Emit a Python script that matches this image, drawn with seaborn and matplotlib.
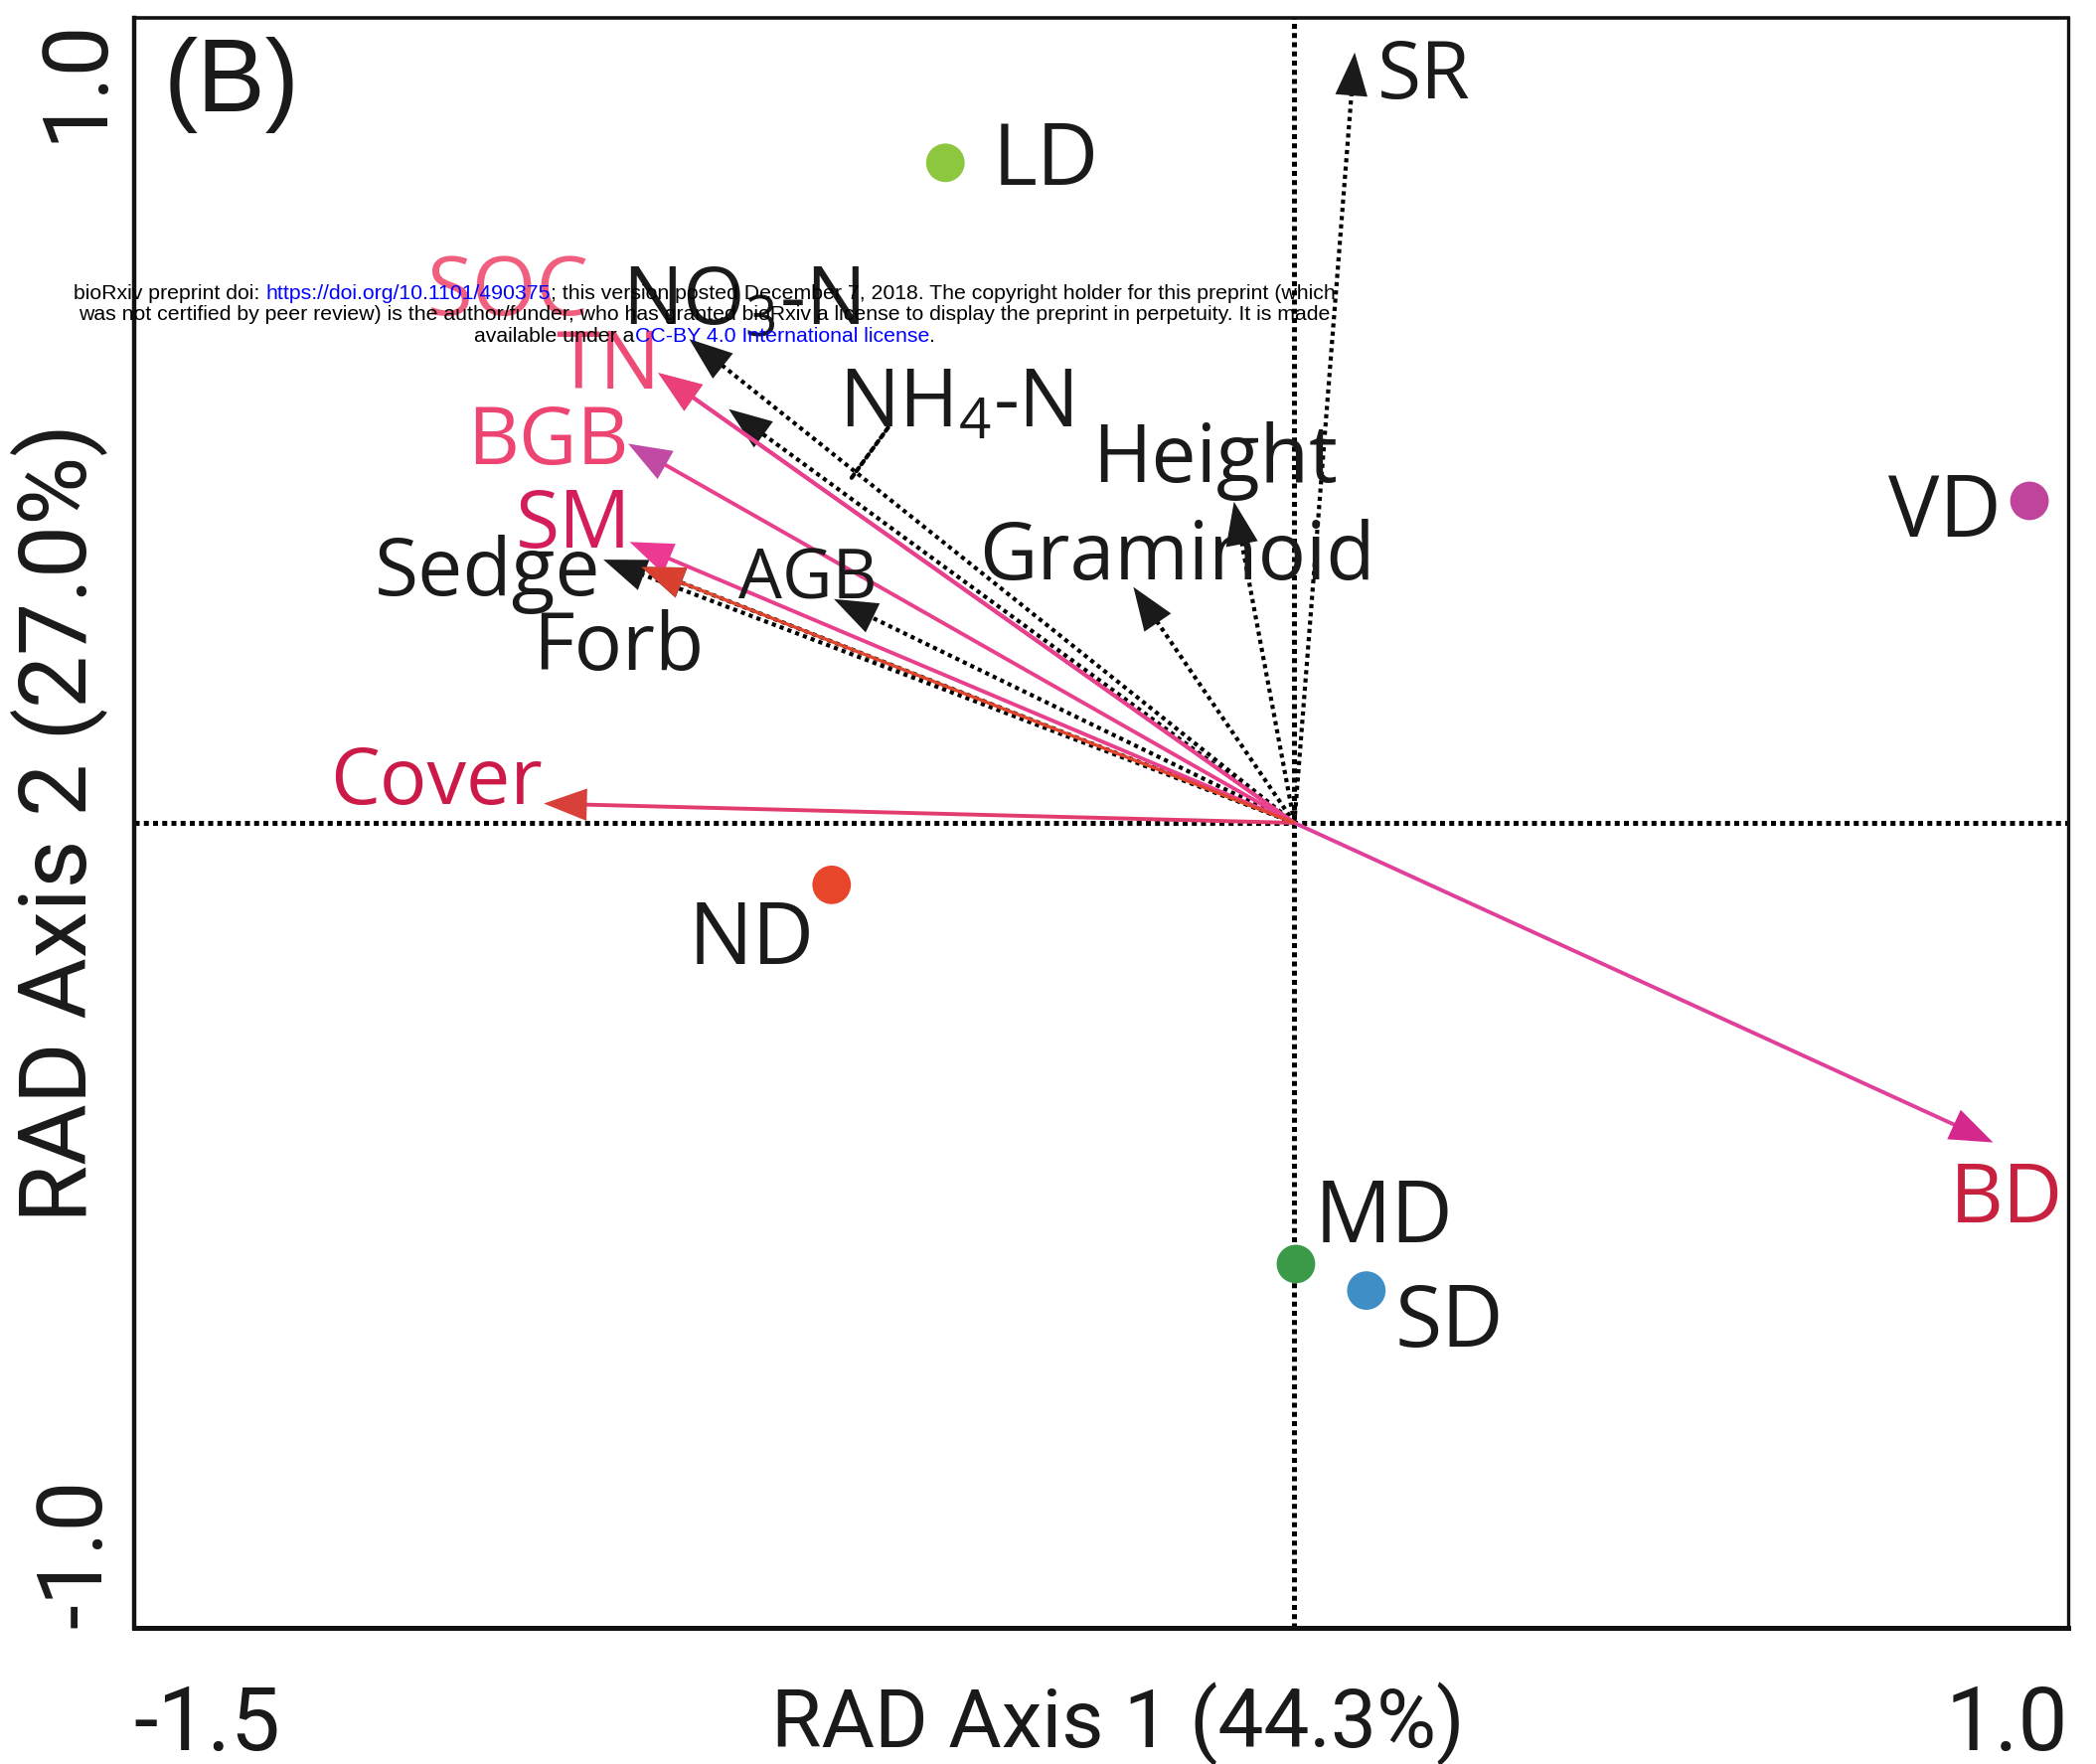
import matplotlib
matplotlib.use("Agg")
import matplotlib.pyplot as plt
from matplotlib import font_manager
import seaborn as sns
import numpy as np
import pandas as pd

# ---------------- data ----------------
site_names = ["LD", "VD", "ND", "MD", "SD"]
site_x = [-0.451, 0.950, -0.598, 0.002, 0.093]
site_y = [0.820, 0.400, -0.077, -0.548, -0.581]
site_colors = ["#8dc63f", "#c0449b", "#e8462b", "#3a9a47", "#3f8fc6"]

# soil / community vectors (solid, red)
soil_names = ["SOC", "TN", "BGB", "SM", "Cover", "BD"]
soil_x = [-0.822, -0.822, -0.861, -0.859, -0.970, 0.903]
soil_y = [0.559, 0.559, 0.471, 0.349, 0.024, -0.397]

# plant vectors (dotted, black)
plant_names = ["NO3-N", "NH4-N", "Height", "Graminoid", "SR", "AGB", "Sedge", "Forb"]
plant_x = [-0.782, -0.731, -0.078, -0.208, 0.078, -0.595, -0.893, -0.844]
plant_y = [0.601, 0.514, 0.399, 0.293, 0.957, 0.278, 0.327, 0.318]

x_ticks = [-1.5, -1.0, -0.5, 0.0, 0.5, 1.0]
x_ticklabels = ["-1.5", "", "", "", "", "1.0"]
y_ticks = [-1.0, -0.5, 0.0, 0.5, 1.0]
y_ticklabels = ["-1.0", "", "", "", "1.0"]

# ---------------- styles ----------------
soil_line_col = {"SOC": "#e8408c", "TN": "#e8408c", "BGB": "#e8408c", "SM": "#e8408c",
                 "Cover": "#e23c6e", "BD": "#e0409a"}
soil_head_col = {"SOC": "#ea3f78", "TN": "#ea3f78", "BGB": "#c04aa4", "SM": "#ec3a92",
                 "Cover": "#d8403a", "BD": "#d4288c"}
label_col = {"SOC": "#f0607e", "TN": "#ee4c76", "BGB": "#ee4472", "SM": "#d41e5c",
             "Cover": "#cc1a48", "BD": "#c8203f"}

# label placements (data coords, baseline)
var_label_pos = {
    "SOC": (-1.016, 0.631, "center"),
    "NO3-N": (-0.715, 0.619, "center"),
    "TN": (-0.887, 0.539, "center"),
    "NH4-N": (-0.437, 0.493, "center"),
    "BGB": (-0.964, 0.446, "center"),
    "Height": (-0.102, 0.423, "center"),
    "SM": (-0.931, 0.342, "center"),
    "Sedge": (-1.042, 0.283, "center"),
    "AGB": (-0.629, 0.279, "center"),
    "Graminoid": (-0.152, 0.302, "center"),
    "Forb": (-0.874, 0.190, "center"),
    "Cover": (-1.109, 0.024, "center"),
    "BD": (0.921, -0.496, "center"),
    "SR": (0.107, 0.900, "left"),
}
site_label_pos = {
    "LD": (-0.390, 0.792, "left"),
    "VD": (0.914, 0.355, "right"),
    "ND": (-0.701, -0.175, "center"),
    "MD": (0.026, -0.521, "left"),
    "SD": (0.130, -0.651, "left"),
}
var_display = {"NO3-N": r"NO$_3$-N", "NH4-N": r"NH$_4$-N"}

sns.set_theme(style="white")
plt.rcParams["font.family"] = ["Open Sans", "DejaVu Sans"]
plt.rcParams["mathtext.default"] = "regular"

installed = {f.name for f in font_manager.fontManager.ttflist}
wm_family = "Liberation Sans Narrow" if "Liberation Sans Narrow" in installed else "Liberation Sans"

W, H = 2109, 1775
fig = plt.figure(figsize=(W / 100, H / 100), dpi=100)
ax = fig.add_axes([134.5 / W, 1 - 1638 / H, (2081 - 134.5) / W, (1638 - 18) / H])
ax.set_xlim(-1.5, 1.0)
ax.set_ylim(-1.0, 1.0)

# origin dotted lines
ax.axhline(0, color="black", lw=3.6, ls=(0, (1, 0.85)), zorder=1)
ax.axvline(0, color="black", lw=3.6, ls=(0, (1, 0.85)), zorder=1)


def draw_vector(x, y, line_col, head_col, ls, lw, z, back_px=24):
    p0 = ax.transData.transform((0, 0))
    p1 = ax.transData.transform((x, y))
    d = p1 - p0
    L = np.hypot(*d)
    pe = p1 - d / L * back_px
    xe, ye = ax.transData.inverted().transform(pe)
    ax.plot([0, xe], [0, ye], color=line_col, lw=lw, ls=ls,
            solid_capstyle="butt", zorder=z)
    ax.annotate("", xy=(x, y), xytext=(x * 0.985, y * 0.985),
                arrowprops=dict(arrowstyle="-|>,head_length=0.4,head_width=0.15",
                                mutation_scale=78, color=head_col, lw=0,
                                shrinkA=0, shrinkB=0),
                zorder=z + 0.5)


# plant vectors
for n, x, y in zip(plant_names, plant_x, plant_y):
    draw_vector(x, y, "black", "#1a1a1a", (0, (1, 1.0)), 3.0, 2)
# Forb vector drawn with red overlay
fi = plant_names.index("Forb")
draw_vector(plant_x[fi], plant_y[fi], "#e0452e", "#d9402f", "-", 2.4, 3.2)

# soil vectors
for n, x, y in zip(soil_names, soil_x, soil_y):
    draw_vector(x, y, soil_line_col[n], soil_head_col[n], "-", 2.8, 3)

# sites
df = pd.DataFrame({"site": site_names, "x": site_x, "y": site_y})
sns.scatterplot(data=df, x="x", y="y", hue="site",
                palette=dict(zip(site_names, site_colors)),
                s=780, edgecolor="none", legend=False, ax=ax, zorder=6)

# labels
for n in plant_names + soil_names:
    if n not in var_label_pos:
        continue
    x, y, ha = var_label_pos[n]
    col = label_col.get(n, "#1a1a1a")
    fs = 50 if n == "AGB" else 58
    if n in ("SOC", "BD"):
        fs = 60
    if n == "Cover":
        fs = 57
    ax.text(x, y, var_display.get(n, n), color=col, fontsize=fs,
            ha=ha, va="baseline", zorder=7, family=["Open Sans", "DejaVu Sans"])
for n in site_names:
    x, y, ha = site_label_pos[n]
    ax.text(x, y, n, color="#1a1a1a", fontsize=62, ha=ha, va="baseline",
            zorder=7, family=["Open Sans", "DejaVu Sans"])

# NH4-N leader line
ax.annotate("", xy=(-0.575, 0.425), xytext=(-0.525, 0.491),
            arrowprops=dict(arrowstyle="-", ls=(0, (1, 1.0)), lw=3.0, color="black",
                            shrinkA=0, shrinkB=0), zorder=2)

# panel tag
ax.text(-1.373, 0.884, "(B)", fontsize=74, ha="center", va="baseline",
        family=["Liberation Sans", "DejaVu Sans"], color="#1a1a1a")

# axes styling
ax.set_xticks(x_ticks)
ax.set_xticklabels(x_ticklabels)
ax.set_yticks(y_ticks)
ax.set_yticklabels(y_ticklabels, rotation=90)
ax.tick_params(axis="both", direction="inout", length=16, width=2.0, color="black")
ax.tick_params(axis="x", pad=32, labelsize=64)
ax.tick_params(axis="y", pad=3, labelsize=65)
for lab in ax.get_xticklabels() + ax.get_yticklabels():
    lab.set_family(["Roboto", "DejaVu Sans"])
    lab.set_color("#1a1a1a")
xl = ax.get_xticklabels()
xl[0].set_ha("left")
xl[-1].set_ha("right")
yl = ax.get_yticklabels()
for lab in yl:
    lab.set_va("center")
yl[0].set_va("bottom")
yl[-1].set_va("top")

ax.set_xlabel("RAD Axis 1 (44.3%)", fontsize=59, family=["Roboto", "DejaVu Sans"],
              color="#1a1a1a", va="top")
ax.xaxis.set_label_coords(0.509, -0.0336)
ax.set_ylabel("RAD Axis 2 (27.0%)", fontsize=68, family=["Roboto", "DejaVu Sans"],
              color="#1a1a1a", va="center")
ax.yaxis.set_label_coords(-0.0385, 0.5)

for side, lw in (("left", 3.2), ("bottom", 3.6), ("top", 2.6), ("right", 2.4)):
    ax.spines[side].set_visible(True)
    ax.spines[side].set_linewidth(lw)
    ax.spines[side].set_color("#111111")
ax.grid(False)

# ---------------- watermark ----------------
wm_lines = [
    [("bioRxiv preprint doi: ", "black"), ("https://doi.org/10.1101/490375", "#0000ff"),
     ("; this version posted December 7, 2018. The copyright holder for this preprint (which", "black")],
    [("was not certified by peer review) is the author/funder, who has granted bioRxiv a license to display the preprint in perpetuity. It is made", "black")],
    [("available under a", "black"), ("CC-BY 4.0 International license", "#0000ff"), (".", "black")],
]
wm_baselines = [301, 322, 344]
wm_cx = 709
renderer = fig.canvas.get_renderer()


def text_w(s, fs):
    t = fig.text(0, 0, s, fontsize=fs, family=[wm_family, "DejaVu Sans"])
    w = t.get_window_extent(renderer).width
    t.remove()
    return w


line1 = "".join(s for s, _ in wm_lines[0])
wm_fs = 10 * 1276 / text_w(line1, 10)
for segs, yb in zip(wm_lines, wm_baselines):
    full = "".join(s for s, _ in segs)
    left = wm_cx - text_w(full, wm_fs) / 2
    for i, (s, c) in enumerate(segs):
        st = s.rstrip()
        prefix = "".join(p for p, _ in segs[:i]) + st
        start = left + text_w(prefix, wm_fs) - text_w(st, wm_fs)
        fig.text(start / W, 1 - yb / H, st, fontsize=wm_fs, color=c,
                 family=[wm_family, "DejaVu Sans"], ha="left", va="baseline",
                 zorder=20)

fig.savefig("out.png", dpi=100, facecolor="white")
